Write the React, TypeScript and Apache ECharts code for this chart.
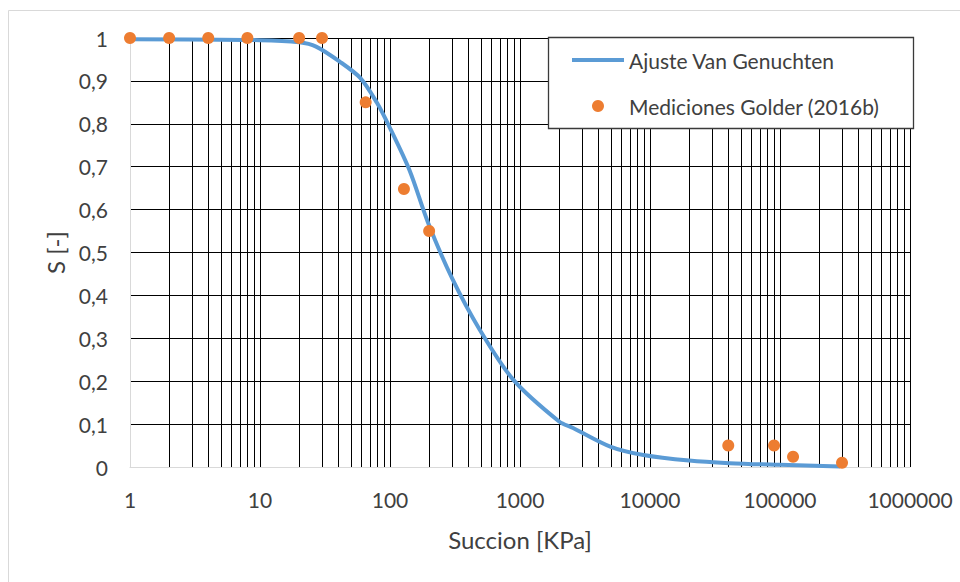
import React, { useEffect, useRef } from "react";
import * as echarts from "echarts";

// Van Genuchten fit (suction kPa, saturation)
const curveSuction = [1, 10, 20, 27, 41, 59, 79, 100, 142, 196, 300, 490, 890, 2000, 2560, 5000, 8900, 20000, 41000, 100000, 290000];
const curveS = [0.997, 0.995, 0.99, 0.98, 0.945, 0.907, 0.85, 0.79, 0.69, 0.57, 0.44, 0.32, 0.203, 0.106, 0.091, 0.047, 0.028, 0.015, 0.009, 0.005, 0.001];

// Golder (2016b) measurements
const measSuction = [1, 2, 4, 8, 20, 30, 65, 128, 200, 40000, 90000, 126000, 300000];
const measS = [1, 1, 1, 1, 1, 1, 0.85, 0.648, 0.55, 0.05, 0.05, 0.024, 0.01];

const seriesNames = ["Ajuste Van Genuchten", "Mediciones Golder (2016b)"];
const xAxisName = "Succion [KPa]";
const yAxisName = "S [-]";

const FONT = "Lato";
const TEXT = "#404040";

export default function App() {
  const ref = useRef<HTMLDivElement>(null);
  useEffect(() => {
    if (!ref.current) return;
    const chart = echarts.init(ref.current, undefined, { renderer: "svg" });
    const minorLines: { xAxis: number }[] = [];
    for (let d = 0; d < 6; d++) {
      for (let k = 2; k <= 9; k++) minorLines.push({ xAxis: k * Math.pow(10, d) });
    }
    chart.setOption({
      animation: false,
      backgroundColor: "#ffffff",
      textStyle: { fontFamily: FONT },
      grid: { left: 130, right: 50, top: 38, bottom: 115, containLabel: false },
      xAxis: {
        type: "log",
        logBase: 10,
        min: 1,
        max: 1000000,
        name: xAxisName,
        nameLocation: "middle",
        nameGap: 60,
        nameTextStyle: { color: TEXT, fontSize: 24, fontFamily: FONT },
        axisLine: { show: true, lineStyle: { color: "#d9d9d9", width: 1 } },
        axisTick: { show: false },
        axisLabel: {
          color: TEXT,
          fontSize: 21,
          fontFamily: FONT,
          margin: 22,
          formatter: (v: number) => String(Math.round(v)),
        },
        splitLine: { show: true, showMinLine: false, lineStyle: { color: "#000", width: 1 } },
      },
      yAxis: {
        type: "value",
        min: 0,
        max: 1,
        interval: 0.1,
        name: yAxisName,
        nameLocation: "middle",
        nameGap: 60,
        nameTextStyle: { color: TEXT, fontSize: 24, fontFamily: FONT },
        axisLine: { show: true, lineStyle: { color: "#d9d9d9", width: 1 } },
        axisTick: { show: false },
        axisLabel: {
          color: TEXT,
          fontSize: 21,
          fontFamily: FONT,
          margin: 22,
          formatter: (v: number) => {
            const r = Math.round(v * 10) / 10;
            if (r === 0) return "0";
            if (r === 1) return "1";
            return r.toFixed(1).replace(".", ",");
          },
        },
        splitLine: { show: true, showMinLine: false, lineStyle: { color: "#000", width: 1 } },
      },
      legend: {
        show: true,
        orient: "vertical",
        left: 570,
        top: 48,
        itemWidth: 52,
        itemHeight: 12,
        itemGap: 22,
        padding: 0,
        selectedMode: false,
        z: 6,
        textStyle: { color: TEXT, fontSize: 21, fontFamily: FONT, lineHeight: 24 },
        data: [
          { name: seriesNames[0], itemStyle: { opacity: 0 }, lineStyle: { width: 4, color: "#5b9bd5" } },
          { name: seriesNames[1] },
        ],
      },
      graphic: [
        {
          type: "rect",
          z: 0,
          silent: true,
          shape: { x: 8.5, y: 10.5, width: 1200, height: 1200 },
          style: { fill: "none", stroke: "#d9d9d9", lineWidth: 1 },
        },
        {
          type: "rect",
          z: 5,
          silent: true,
          shape: { x: 548.5, y: 37.5, width: 365, height: 91 },
          style: { fill: "#ffffff", stroke: "#3a3a3a", lineWidth: 1.3 },
        },
      ],
      series: [
        {
          name: seriesNames[0],
          type: "line",
          data: curveSuction.map((x, i) => [x, curveS[i]]),
          smooth: 0.3,
          symbol: "none",
          z: 3,
          lineStyle: { color: "#5b9bd5", width: 4 },
          itemStyle: { color: "#5b9bd5" },
          markLine: {
            silent: true,
            symbol: "none",
            z: 1,
            label: { show: false },
            lineStyle: { color: "#000", width: 1, type: "solid" },
            data: minorLines,
          },
        },
        {
          name: seriesNames[1],
          type: "scatter",
          data: measSuction.map((x, i) => [x, measS[i]]),
          symbol: "circle",
          symbolSize: 12,
          z: 4,
          itemStyle: { color: "#ed7d31", opacity: 1 },
        },
      ],
    });
    return () => chart.dispose();
  }, []);
  return (
    <div
      ref={ref}
      style={{ position: "fixed", left: 0, top: 0, width: 960, height: 582, background: "#fff" }}
    />
  );
}
